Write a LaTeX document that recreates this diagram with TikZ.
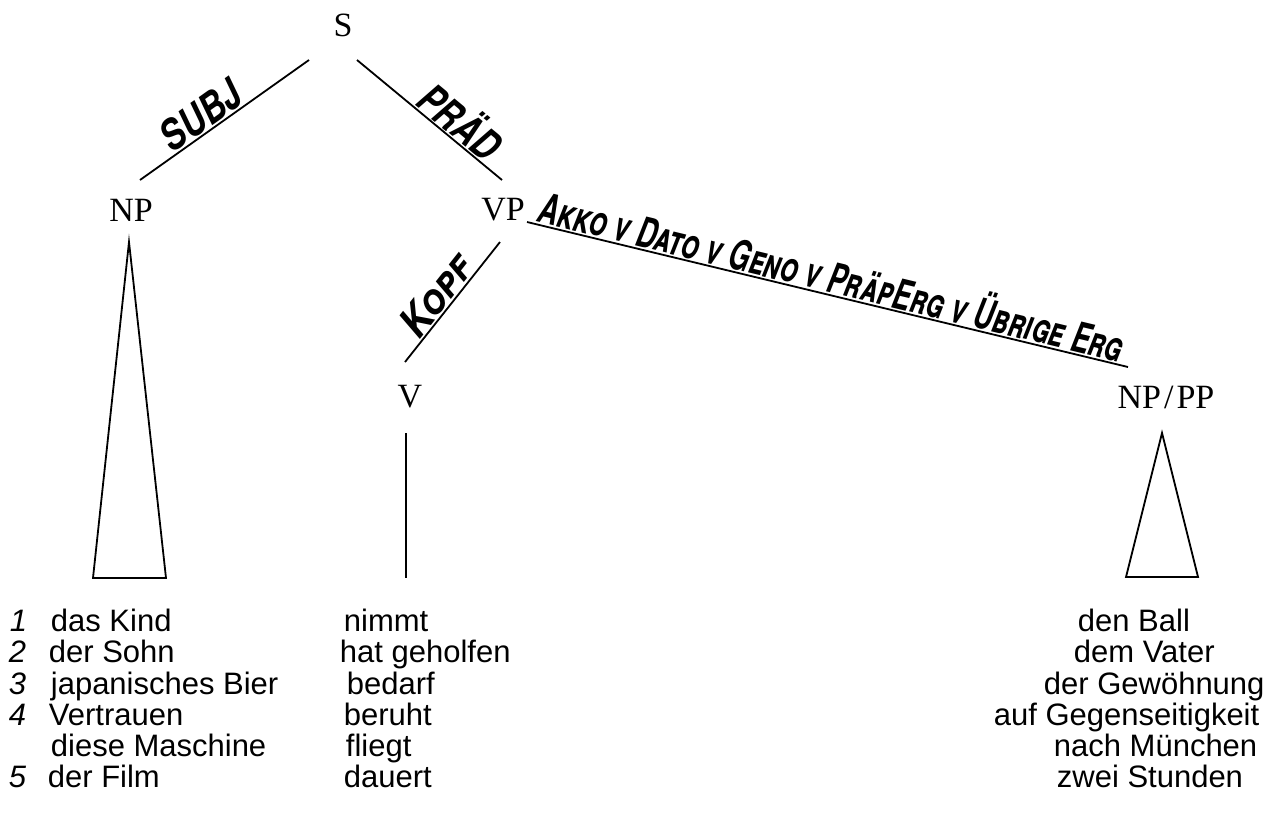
\documentclass[tikz,border=0pt]{standalone}
\usepackage{fontspec}
\usepackage{graphicx}
\setmainfont{Liberation Serif}
\setsansfont{Liberation Sans}
\newfontfamily\lblfont[FakeStretch=0.9]{TeX Gyre Heros}
\begin{document}
\begin{tikzpicture}[x=0.5pt,y=-0.5pt,line width=0.9pt,
  cat/.style={font=\fontsize{17}{17}\selectfont,inner sep=0pt},
  word/.style={font=\sffamily\fontsize{15.5}{15.5}\selectfont,anchor=base west,inner sep=0pt},
  num/.style={font=\sffamily\itshape\fontsize{15.5}{15.5}\selectfont,anchor=base west,inner sep=0pt},
  fn/.style={font=\lblfont\bfseries\itshape\fontsize{21}{21}\selectfont,sloped,above,inner sep=0.6pt}]
\useasboundingbox (0,0) rectangle (1284,820);
% category nodes
\node[cat] (S) at (343,25) {S};
\node[cat] (NP) at (131,210) {NP};
\node[cat] (VP) at (503,210) {VP};
\node[cat] (V) at (410,397) {V};
\node[cat] (NPPP) at (1166,397) {NP\kern1.5pt/\kern1.5pt PP};
% connector end points
\coordinate (S-l) at (309,60);
\coordinate (S-r) at (357,60);
\coordinate (NP-t) at (140,180);
\coordinate (VP-t) at (502,180);
\coordinate (VP-b) at (500,242);
\coordinate (VP-r) at (527,222);
\coordinate (V-t) at (405,362);
\coordinate (V-b) at (406,433);
\coordinate (NPPP-t) at (1128,367);
\coordinate (NP-apex) at (129,242);
\coordinate (NPPP-apex) at (1162,433);
% branches
\draw (NP-t) -- node[fn,pos=0.42] {\resizebox{45pt}{\height}{SUBJ}} (S-l);
\draw (S-r) -- node[fn,pos=0.63] {\resizebox{46pt}{\height}{PRÄD}} (VP-t);
\draw (V-t) -- node[fn,pos=0.47] {\resizebox{46pt}{\height}{\scshape Kopf}} (VP-b);
\draw (VP-r) -- node[fn,pos=0.5] {\resizebox{300pt}{\height}{\scshape Akko v Dato v Geno v PräpErg v Übrige Erg}} (NPPP-t);
% triangles and stem
\draw (NP-apex) -- (93,578) -- (166,578) -- cycle;
\draw (NPPP-apex) -- (1126,577) -- (1198,577) -- cycle;
\draw (V-b) -- (406,578);
% words
\node[num] (n1) at (9,631) {1};
\node[num] (n2) at (8,662) {2};
\node[num] (n3) at (8,694) {3};
\node[num] (n4) at (8,725) {4};
\node[num] (n5) at (8,787) {5};
\node[word] (a1) at (50,631) {das Kind};
\node[word] (a2) at (48,662) {der Sohn};
\node[word] (a3) at (50,694) {japanisches Bier};
\node[word] (a4) at (48,725) {Vertrauen};
\node[word] (a5) at (50,756) {diese Maschine};
\node[word] (a6) at (47,787) {der Film};
\node[word] (b1) at (343,631) {nimmt};
\node[word] (b2) at (339,662) {hat geholfen};
\node[word] (b3) at (346,694) {bedarf};
\node[word] (b4) at (343,725) {beruht};
\node[word] (b5) at (345,756) {fliegt};
\node[word] (b6) at (343,787) {dauert};
\node[word] (c1) at (1077,631) {den Ball};
\node[word] (c2) at (1073,662) {dem Vater};
\node[word] (c3) at (1043,694) {der Gewöhnung};
\node[word] (c4) at (993,725) {auf Gegenseitigkeit};
\node[word] (c5) at (1053,756) {nach München};
\node[word] (c6) at (1056,787) {zwei Stunden};
\end{tikzpicture}
\end{document}
